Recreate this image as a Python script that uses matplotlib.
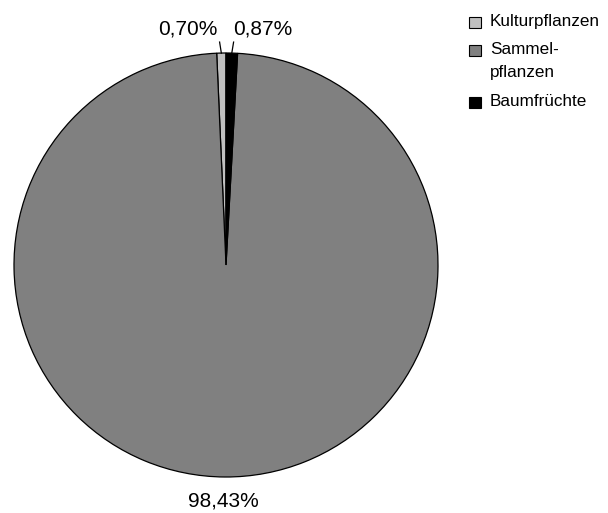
import numpy as np
import matplotlib
matplotlib.use("Agg")
import matplotlib.pyplot as plt
from matplotlib.patches import Rectangle

plt.rcParams['font.family'] = ['Liberation Sans', 'DejaVu Sans']

categories = ["Kulturpflanzen", "Sammelpflanzen", "Baumfrüchte"]
legend_labels = ["Kulturpflanzen", "Sammel-\npflanzen", "Baumfrüchte"]
shares = [0.70, 98.43, 0.87]
value_labels = ["0,70%", "98,43%", "0,87%"]
colors = ["#C0C0C0", "#808080", "#000000"]

W, H = 608, 513
fig = plt.figure(figsize=(W / 100, H / 100), dpi=100)
ax = fig.add_axes([0, 0, 1, 1])

cx, cy, R = 226, H - 265, 212
wedges, _ = ax.pie(shares, colors=colors, startangle=90, counterclock=True,
                   center=(cx, cy), radius=R, frame=True,
                   wedgeprops=dict(edgecolor="black", linewidth=0.9))
ax.set_xlim(0, W)
ax.set_ylim(0, H)
ax.axis("off")

# percentage labels, placed outside the wedges
label_pos = {0: (188, H - 29), 1: (223, H - 501), 2: (263, H - 29)}
for i, w in enumerate(wedges):
    tx, ty = label_pos[i]
    ax.text(tx, ty, value_labels[i], ha="center", va="center", fontsize=15)
    if shares[i] < 5:
        mid = np.deg2rad((w.theta1 + w.theta2) / 2)
        r0, r1 = R, R + 11
        ax.plot([cx + r0 * np.cos(mid), cx + (r1) * np.cos(mid) - (1.5 if i == 0 else -1.5)],
                [cy + r0 * np.sin(mid), cy + r1 * np.sin(mid)],
                color="black", linewidth=0.9)

# legend
row_tops = [17, 45, 97]
for lab, col, top in zip(legend_labels, colors, row_tops):
    ax.add_patch(Rectangle((469, H - top - 11), 12, 11, facecolor=col,
                           edgecolor="black", linewidth=0.8))
    ax.text(490, H - top + 3, lab, ha="left", va="top", fontsize=12.3,
            linespacing=1.65)

fig.savefig("out.png", dpi=100)
